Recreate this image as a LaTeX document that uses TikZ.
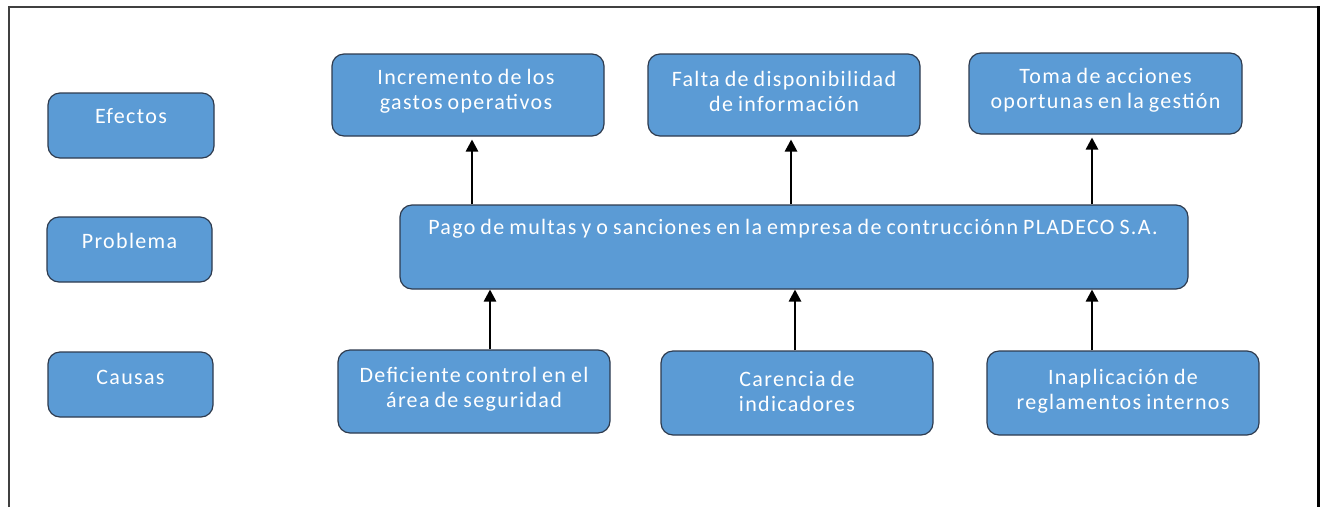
\documentclass[tikz,border=0pt]{standalone}
\usepackage{fontspec}
\setmainfont{Carlito}[LetterSpace=6,WordSpace=0.8]
\usetikzlibrary{arrows.meta}
\definecolor{boxblue}{HTML}{5B9BD5}
\definecolor{boxedge}{HTML}{2E3B4E}
\begin{document}
\begin{tikzpicture}[x=1pt,y=-1pt,
  box/.style={draw=boxedge, line width=1.2pt, fill=boxblue, rounded corners=12pt, inner sep=0pt},
  txt/.style={text=white, font=\fontsize{22}{25}\selectfont, align=center, inner sep=0pt},
  arr/.style={draw=black, line width=1.4pt, -{Triangle[width=12.5pt,length=12pt]}}]
\useasboundingbox (0,0) rectangle (1322,507);
% frame
\draw[color=black!75, line width=1.5pt] (9,507) -- (9,7) -- (1318,7);
\draw[black, line width=3pt] (1318,6.3) -- (1318,507);
% side labels
\node[box, minimum width=166pt, minimum height=65pt] (efe) at (131,125.5) {};
\node[box, minimum width=165pt, minimum height=65pt] (pro) at (129.5,249.5) {};
\node[box, minimum width=165pt, minimum height=65pt] (cau) at (130.5,384.5) {};
\node[txt] at (131,116) {Efectos};
\node[txt] at (129.5,241) {Problema};
\node[txt] at (130.5,377) {Causas};
% effects
\node[box, minimum width=272pt, minimum height=82pt] (e1) at (468,95) {};
\node[box, minimum width=272pt, minimum height=82pt] (e2) at (784,95) {};
\node[box, minimum width=273pt, minimum height=81pt] (e3) at (1105.5,93.5) {};
\node[txt] at (466,91.5) {Incremento de los\\gastos operativos};
\node[txt] at (784,91.5) {Falta de disponibilidad\\de información};
\node[txt] at (1105.5,90) {Toma de acciones\\oportunas en la gestión};
% problem
\node[box, minimum width=788pt, minimum height=84pt] (prob) at (794,247) {};
\node[txt] at (793,229) {Pago de multas y o sanciones en la empresa de contrucciónn PLADECO S.A.};
% causes
\node[box, minimum width=272pt, minimum height=83pt] (c1) at (474,391.5) {};
\node[box, minimum width=272pt, minimum height=84pt] (c2) at (797,393) {};
\node[box, minimum width=272pt, minimum height=84pt] (c3) at (1123,393) {};
\node[txt] at (474,389) {Deficiente control en el\\área de seguridad};
\node[txt] at (797,391) {Carencia de\\indicadores};
\node[txt] at (1123,391) {Inaplicación de\\reglamentos internos};
% arrow positions
\coordinate (a1) at (472,0);
\coordinate (a2) at (791,0);
\coordinate (a3) at (1092,0);
\coordinate (b1) at (490,0);
\coordinate (b2) at (795,0);
\coordinate (b3) at (1092,0);
\draw[arr, shorten >=3pt] (prob.north -| a1) -- (e1.south -| a1);
\draw[arr, shorten >=3pt] (prob.north -| a2) -- (e2.south -| a2);
\draw[arr, shorten >=3pt] (prob.north -| a3) -- (e3.south -| a3);
\draw[arr] (c1.north -| b1) -- (prob.south -| b1);
\draw[arr] (c2.north -| b2) -- (prob.south -| b2);
\draw[arr] (c3.north -| b3) -- (prob.south -| b3);
\end{tikzpicture}
\end{document}
